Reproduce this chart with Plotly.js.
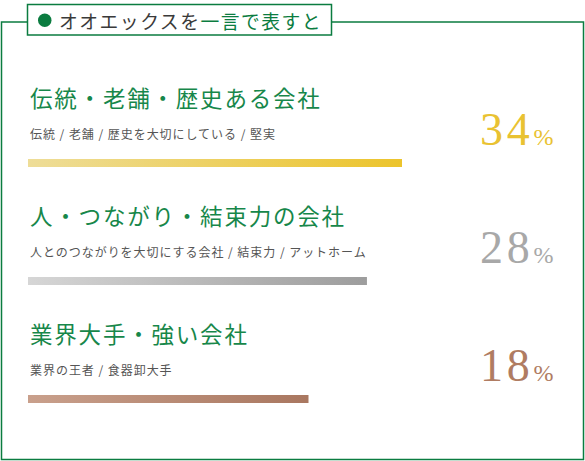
<!DOCTYPE html>
<html lang="ja">
<head>
<meta charset="utf-8">
<script src="https://cdn.plot.ly/plotly-3.0.1.min.js"></script>
<style>
  html, body { margin: 0; padding: 0; background: #fff; }
  #chart { width: 585px; height: 461px; }
  /* the original uses airy Mincho-style spacing */
  .annotation-text { letter-spacing: 0.08em; }
</style>
</head>
<body>
<div id="chart"></div>
<script>
/* ─── Data ─── */
const heading = 'オオエックスを';
const headingAccent = '一言で表すと';
const categories = ['伝統・老舗・歴史ある会社', '人・つながり・結束力の会社', '業界大手・強い会社'];
const descriptions = [
  '伝統 / 老舗 / 歴史を大切にしている / 堅実',
  '人とのつながりを大切にする会社 / 結束力 / アットホーム',
  '業界の王者 / 食器卸大手',
];
const shares = [34, 28, 18];

/* ─── Style ─── */
const W = 585, H = 461;
const GREEN = '#0b7c40';
const TITLE_GREEN = '#17874a';
const TEXT = '#3a3a3a';
const SUB = '#555555';
const JP = '"Noto Sans CJK JP", "Noto Sans", sans-serif';
const NUM = '"Liberation Serif", "DejaVu Serif", serif';
const BAR_GRADIENTS = [
  ['#eedd98', '#ecc42c'],
  ['#d6d6d6', '#9d9d9d'],
  ['#c9a08c', '#a97760'],
];
const NUM_COLORS = ['#e9c232', '#a8a8a8', '#b07c62'];

const AXIS_MIN = -30;       // bars start from the left end of the axis
const ROW0 = 163, ROW_STEP = 118;  // px of the first bar centre and row pitch
const BAR_HALF = 4 / ROW_STEP;

const px = x => x / W;
const py = y => 1 - y / H;

/* ─── Bars: filled polygons so they can carry a horizontal gradient ─── */
const traces = shares.map((v, i) => ({
  type: 'scatter',
  x: [AXIS_MIN, v, v, AXIS_MIN, AXIS_MIN],
  y: [i - BAR_HALF, i - BAR_HALF, i + BAR_HALF, i + BAR_HALF, i - BAR_HALF],
  mode: 'lines',
  line: { width: 0 },
  fill: 'toself',
  fillcolor: BAR_GRADIENTS[i][1],
  fillgradient: { type: 'horizontal', colorscale: [[0, BAR_GRADIENTS[i][0]], [1, BAR_GRADIENTS[i][1]]] },
  hoverinfo: 'skip',
  showlegend: false,
}));

const annotations = [];
annotations.push({
  xref: 'paper', yref: 'paper', x: px(57), y: py(21), xanchor: 'left', yanchor: 'middle',
  text: heading + '<span style="color:' + GREEN + '">' + headingAccent + '</span>',
  showarrow: false, font: { family: JP, size: 18.8, color: TEXT },
});
categories.forEach((c, i) => {
  annotations.push({
    xref: 'x', yref: 'y', x: AXIS_MIN, y: i - 66 / ROW_STEP, xanchor: 'left', yanchor: 'middle',
    text: c, showarrow: false, font: { family: JP, size: 22.5, color: TITLE_GREEN },
  });
  annotations.push({
    xref: 'x', yref: 'y', x: AXIS_MIN, y: i - 30 / ROW_STEP, xanchor: 'left', yanchor: 'middle',
    text: descriptions[i], showarrow: false, font: { family: JP, size: 12, color: SUB },
  });
  annotations.push({
    xref: 'paper', yref: 'y', x: px(559), y: i - 34 / ROW_STEP, xanchor: 'right', yanchor: 'middle',
    text: shares[i] + '<span style="font-size:24px">%</span>',
    showarrow: false, font: { family: NUM, size: 46, color: NUM_COLORS[i] },
  });
});

const shapes = [
  // outer frame
  { type: 'rect', xref: 'paper', yref: 'paper', x0: px(1.5), x1: px(583.5), y0: py(22), y1: py(459.5),
    line: { color: GREEN, width: 1.5 }, fillcolor: 'rgba(0,0,0,0)' },
  // title box sitting on the frame
  { type: 'rect', xref: 'paper', yref: 'paper', x0: px(27.5), x1: px(331.5), y0: py(4.5), y1: py(35),
    line: { color: GREEN, width: 1.5 }, fillcolor: '#ffffff' },
  { type: 'circle', xref: 'paper', yref: 'paper', x0: px(38), x1: px(51.5), y0: py(13.5), y1: py(27),
    line: { width: 0 }, fillcolor: GREEN },
];

/* x: AXIS_MIN..34 spans 28px..402px */
const xMax = 40;
const pxPerUnit = (402 - 28) / (shares[0] - AXIS_MIN);
const layout = {
  width: W, height: H,
  margin: { l: 0, r: 0, t: 0, b: 0 },
  paper_bgcolor: '#ffffff',
  plot_bgcolor: 'rgba(0,0,0,0)',
  showlegend: false,
  xaxis: {
    domain: [px(28), px(28 + (xMax - AXIS_MIN) * pxPerUnit)],
    range: [AXIS_MIN, xMax],
    visible: false, fixedrange: true,
  },
  yaxis: {
    domain: [0, 1],
    range: [(H - ROW0) / ROW_STEP, -ROW0 / ROW_STEP],
    visible: false, fixedrange: true,
  },
  shapes: shapes,
  annotations: annotations,
};

Plotly.newPlot('chart', traces, layout, { displayModeBar: false, staticPlot: true });
</script>
</body>
</html>
